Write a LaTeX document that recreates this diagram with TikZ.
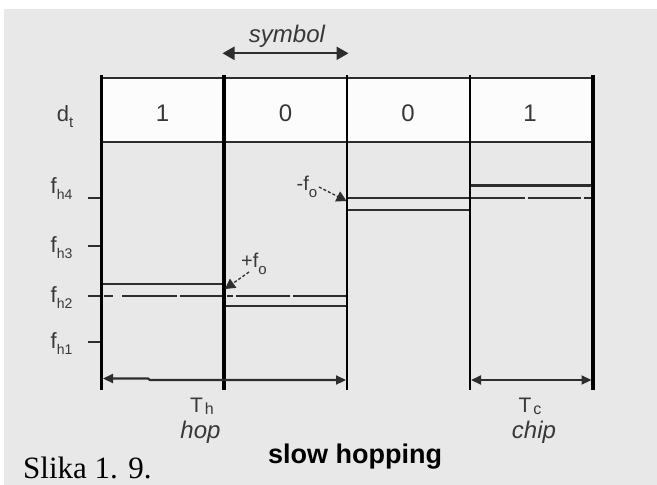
\documentclass[tikz,border=0pt]{standalone}
\usepackage{fontspec}
\setmainfont{Liberation Sans}
\newfontfamily\timesf{Liberation Serif}
\usetikzlibrary{arrows.meta}
\definecolor{bg}{HTML}{E8E8E8}
\definecolor{ink}{HTML}{2E2E2E}
\definecolor{txt}{HTML}{383838}
\definecolor{cellfill}{HTML}{FCFCFC}
\newcommand{\fs}[1]{\fontsize{#1}{#1}\selectfont}
\begin{document}
\begin{tikzpicture}[x=1pt,y=-1pt,
  vthickln/.style={line width=3.6pt,draw=black},
  vthinln/.style={line width=2pt,draw=black},
  hln/.style={line width=2.6pt,draw=ink},
  sigln/.style={line width=2.6pt,draw=ink},
  tickln/.style={line width=2.6pt,draw=ink},
  dimln/.style={line width=2.2pt,draw=ink,{Triangle[length=10pt,width=9pt]}-{Triangle[length=10pt,width=9pt]}},
  symln/.style={line width=2.2pt,draw=ink,{Triangle[length=12pt,width=13pt]}-{Triangle[length=12pt,width=13pt]}},
  leaderln/.style={line width=1.3pt,draw=ink,dash pattern=on 3pt off 2pt,-{Triangle[length=10pt,width=11pt]}},
  lbl/.style={inner sep=0pt,text=txt,anchor=base},
]
\useasboundingbox (0,0) rectangle (657,485);
\fill[white] (0,0) rectangle (657,485);
\fill[bg] (4,9) rectangle (657,485);
% data row
\fill[cellfill] (101.5,78) rectangle (593,142);
% coordinates of verticals
\coordinate (t0) at (101.5,75);  \coordinate (b0) at (101.5,390);
\coordinate (t1) at (224,75);    \coordinate (b1) at (224,390);
\coordinate (t2) at (347,75);    \coordinate (b2) at (347,390);
\coordinate (t3) at (469.5,75);  \coordinate (b3) at (469.5,390);
\coordinate (t4) at (593,75);    \coordinate (b4) at (593,390);
% table horizontal lines
\coordinate (hl1) at (101.5,78);  \coordinate (hr1) at (593,78);
\coordinate (hl2) at (101.5,142); \coordinate (hr2) at (593,142);
\draw[hln] (hl1) -- (hr1);
\draw[hln] (hl2) -- (hr2);
% frequency ticks
\coordinate (k4a) at (88,198);  \coordinate (k4b) at (101.5,198);
\coordinate (k3a) at (88,246);  \coordinate (k3b) at (101.5,246);
\coordinate (k2a) at (88,296);  \coordinate (k2b) at (101.5,296);
\coordinate (k1a) at (88,342);  \coordinate (k1b) at (101.5,342);
\draw[tickln] (k4a) -- (k4b);
\draw[tickln] (k3a) -- (k3b);
\draw[tickln] (k2a) -- (k2b);
\draw[tickln] (k1a) -- (k1b);
% reference (dashed) lines
\coordinate (r2a) at (103.5,296); \coordinate (r2b) at (347,296);
\draw[sigln,dash pattern=on 9.5pt off 9pt on 55pt off 3pt on 44pt off 3pt on 6pt off 3pt on 54pt off 3pt on 60pt] (r2a) -- (r2b);
\coordinate (r4a) at (347,198); \coordinate (r4b) at (593,198);
\draw[sigln,dash pattern=on 178pt off 2.5pt on 53.5pt off 2.5pt on 20pt] (r4a) -- (r4b);
% signal lines
\coordinate (s1a) at (101.5,284); \coordinate (s1b) at (224,284);
\coordinate (s2a) at (224,306);   \coordinate (s2b) at (347,306);
\coordinate (s3a) at (347,210);   \coordinate (s3b) at (469.5,210);
\coordinate (s4a) at (469.5,185.5); \coordinate (s4b) at (593,185.5);
\draw[sigln] (s1a) -- (s1b);
\draw[sigln] (s2a) -- (s2b);
\draw[sigln] (s3a) -- (s3b);
\draw[sigln] (s4a) -- (s4b);
% verticals
\draw[vthickln] (t0) -- (b0);
\draw[vthickln] (t1) -- (b1);
\draw[vthinln] (t2) -- (b2);
\draw[vthinln] (t3) -- (b3);
\draw[vthickln] (t4) -- (b4);
% symbol arrow
\node[lbl] (sym) at (287,42) {\fs{24}\itshape symbol};
\coordinate (sa) at (222.5,53.3); \coordinate (sb) at (348.5,53.3);
\draw[symln] (sa) -- (sb);
% data values
\node[lbl] (dt) at (65,121) {\fs{22}d\raisebox{-6pt}{\fs{15}t}};
\node[lbl] (v1) at (162.5,121) {\fs{24}1};
\node[lbl] (v2) at (285.5,121) {\fs{24}0};
\node[lbl] (v3) at (408,121) {\fs{24}0};
\node[lbl] (v4) at (530,121) {\fs{24}1};
% frequency labels
\node[lbl] (fh4) at (61.5,193) {\fs{22}f\raisebox{-6.5pt}{\fs{14}h4}};
\node[lbl] (fh3) at (61.5,252) {\fs{22}f\raisebox{-6.5pt}{\fs{14}h3}};
\node[lbl] (fh2) at (61.5,302) {\fs{22}f\raisebox{-6.5pt}{\fs{14}h2}};
\node[lbl] (fh1) at (61.5,348) {\fs{22}f\raisebox{-6.5pt}{\fs{14}h1}};
% offset annotations
\node[lbl] (pf) at (254,267) {\fs{20}+f\raisebox{-7pt}{\fs{15}o}};
\coordinate (pfs) at (249,272); \coordinate (pft) at (225,289);
\draw[leaderln] (pfs) -- (pft);
\node[lbl] (mf) at (307,190) {\fs{20}-f\raisebox{-7pt}{\fs{15}o}};
\coordinate (mfs) at (319,187); \coordinate (mft) at (346.5,201);
\draw[leaderln] (mfs) -- (mft);
% duration arrows
\coordinate (a0) at (103,378.5); \coordinate (a2) at (346,380);
\draw[dimln] (a0) -- (148,378.5) -- (150,380) -- (a2);
\coordinate (a3) at (471,380); \coordinate (a4) at (591.5,380);
\draw[dimln] (a3) -- (a4);
% bottom labels
\node[lbl] (th) at (202,412) {\fs{21}T\hspace{2pt}\raisebox{-2pt}{\fs{16}h}};
\node[lbl] (hop) at (200.5,438) {\fs{24}\itshape hop};
\node[lbl] (tc) at (530,412) {\fs{21}T\hspace{2pt}\raisebox{-2pt}{\fs{16}c}};
\node[lbl] (chip) at (534,438) {\fs{24}\itshape chip};
\node[lbl,text=black] (slow) at (355,463) {\fs{27}\bfseries slow hopping};
\node[inner sep=0pt,anchor=base west,text=black] (slika) at (23,478) {\timesf\fs{31}Slika 1. 9.};
\end{tikzpicture}
\end{document}
